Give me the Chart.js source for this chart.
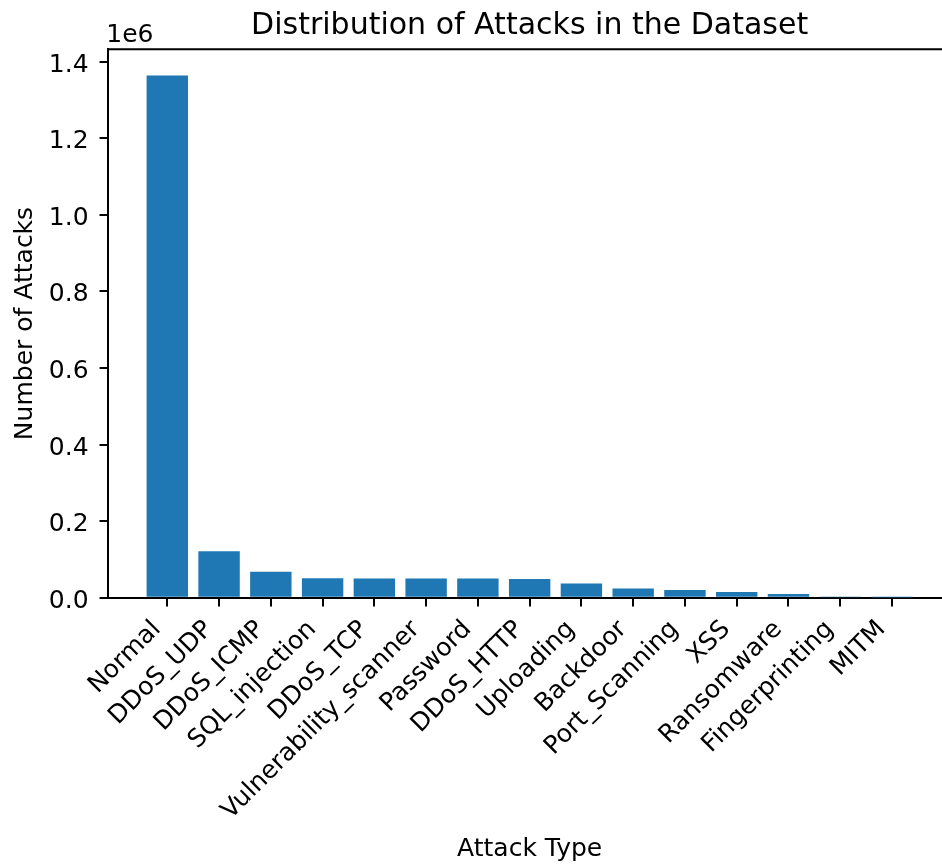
<!DOCTYPE html>
<html>
<head>
<meta charset="utf-8">
<script src="https://cdn.jsdelivr.net/npm/chart.js@4.4.1/dist/chart.umd.min.js"></script>
<style>
  html, body { margin: 0; padding: 0; overflow: hidden; background: #fff; }
  #wrap { width: 960px; height: 866px; }
</style>
</head>
<body>
<div id="wrap"><canvas id="c" width="960" height="866"></canvas></div>
<script>
// ---- data ----
const categories = ['Normal', 'DDoS_UDP', 'DDoS_ICMP', 'SQL_injection', 'DDoS_TCP',
  'Vulnerability_scanner', 'Password', 'DDoS_HTTP', 'Uploading', 'Backdoor',
  'Port_Scanning', 'XSS', 'Ransomware', 'Fingerprinting', 'MITM'];
const attackCounts = [1363998, 121567, 67939, 50826, 50062,
  50026, 49933, 48544, 36807, 24026,
  19977, 15066, 9689, 853, 358];
const yTickValues = [0, 200000, 400000, 600000, 800000, 1000000, 1200000, 1400000];
const yTickLabels = ['0.0', '0.2', '0.4', '0.6', '0.8', '1.0', '1.2', '1.4'];
const offsetLabel = '1e6';

const FONT = 'DejaVu Sans';
Chart.defaults.font.family = FONT;
Chart.defaults.color = '#000';

const maxCount = Math.max(...attackCounts);
const n = categories.length;
const xMin = -0.4 - 0.05 * (n - 1 + 0.8);
const xMax = (n - 1) + 0.4 + 0.05 * (n - 1 + 0.8);

const framePlugin = {
  id: 'frame',
  afterDraw(chart) {
    const { ctx, chartArea: a } = chart;
    ctx.save();
    ctx.strokeStyle = '#000';
    ctx.lineWidth = 2;
    ctx.beginPath();
    ctx.moveTo(a.left, a.top);
    ctx.lineTo(a.right, a.top);
    ctx.lineTo(a.right, a.bottom);
    ctx.stroke();
    ctx.font = '25px "' + FONT + '"';
    ctx.fillStyle = '#000';
    ctx.textAlign = 'left';
    ctx.textBaseline = 'alphabetic';
    ctx.fillText(offsetLabel, a.left - 2, a.top - 7.5);
    ctx.restore();
  }
};

new Chart(document.getElementById('c'), {
  type: 'bar',
  data: {
    datasets: [{
      data: categories.map((c, i) => ({ x: i, y: attackCounts[i] })),
      backgroundColor: '#1f77b4',
      borderWidth: 0,
      barPercentage: 1.0,
      categoryPercentage: 0.8
    }]
  },
  options: {
    responsive: false,
    animation: false,
    devicePixelRatio: 1,
    layout: { padding: { left: 0, right: 9, top: 0, bottom: 0 } },
    plugins: {
      legend: { display: false },
      tooltip: { enabled: false },
      title: {
        display: true,
        text: 'Distribution of Attacks in the Dataset',
        fullSize: false,
        font: { size: 30, weight: 'normal', family: FONT },
        color: '#000',
        padding: { top: 8, bottom: 5.3 }
      }
    },
    scales: {
      x: {
        type: 'linear',
        offset: false,
        min: xMin,
        max: xMax,
        afterBuildTicks(axis) { axis.ticks = categories.map((c, i) => ({ value: i })); },
        afterFit(scale) { scale.height = 866 - 597.7; },
        ticks: {
          autoSkip: false,
          minRotation: 45,
          maxRotation: 45,
          font: { size: 25, family: FONT },
          color: '#000',
          padding: 8.35,
          labelOffset: -10.3,
          callback: (v, i) => categories[i]
        },
        grid: {
          display: true,
          offset: false,
          drawOnChartArea: false,
          drawTicks: true,
          tickLength: 8.75,
          lineWidth: 2,
          color: '#000'
        },
        border: { display: true, color: '#000', width: 2 },
        title: {
          display: true,
          text: 'Attack Type',
          font: { size: 25, family: FONT },
          color: '#000',
          padding: { top: 0, bottom: 2 }
        }
      },
      y: {
        type: 'linear',
        min: 0,
        max: maxCount * 1.05,
        afterBuildTicks(axis) { axis.ticks = yTickValues.map(v => ({ value: v })); },
        afterFit(scale) { scale.width = 108.3; },
        ticks: {
          font: { size: 25, family: FONT },
          color: '#000',
          padding: 11,
          labelOffset: 3.5,
          callback: (v, i) => yTickLabels[i]
        },
        grid: {
          display: true,
          drawOnChartArea: false,
          drawTicks: true,
          tickLength: 8.75,
          lineWidth: 2,
          color: '#000'
        },
        border: { display: true, color: '#000', width: 2 },
        title: {
          display: true,
          text: 'Number of Attacks',
          font: { size: 25, family: FONT },
          color: '#000',
          padding: { top: 10.5, bottom: 0 }
        }
      }
    }
  },
  plugins: [framePlugin]
});
</script>
</body>
</html>
